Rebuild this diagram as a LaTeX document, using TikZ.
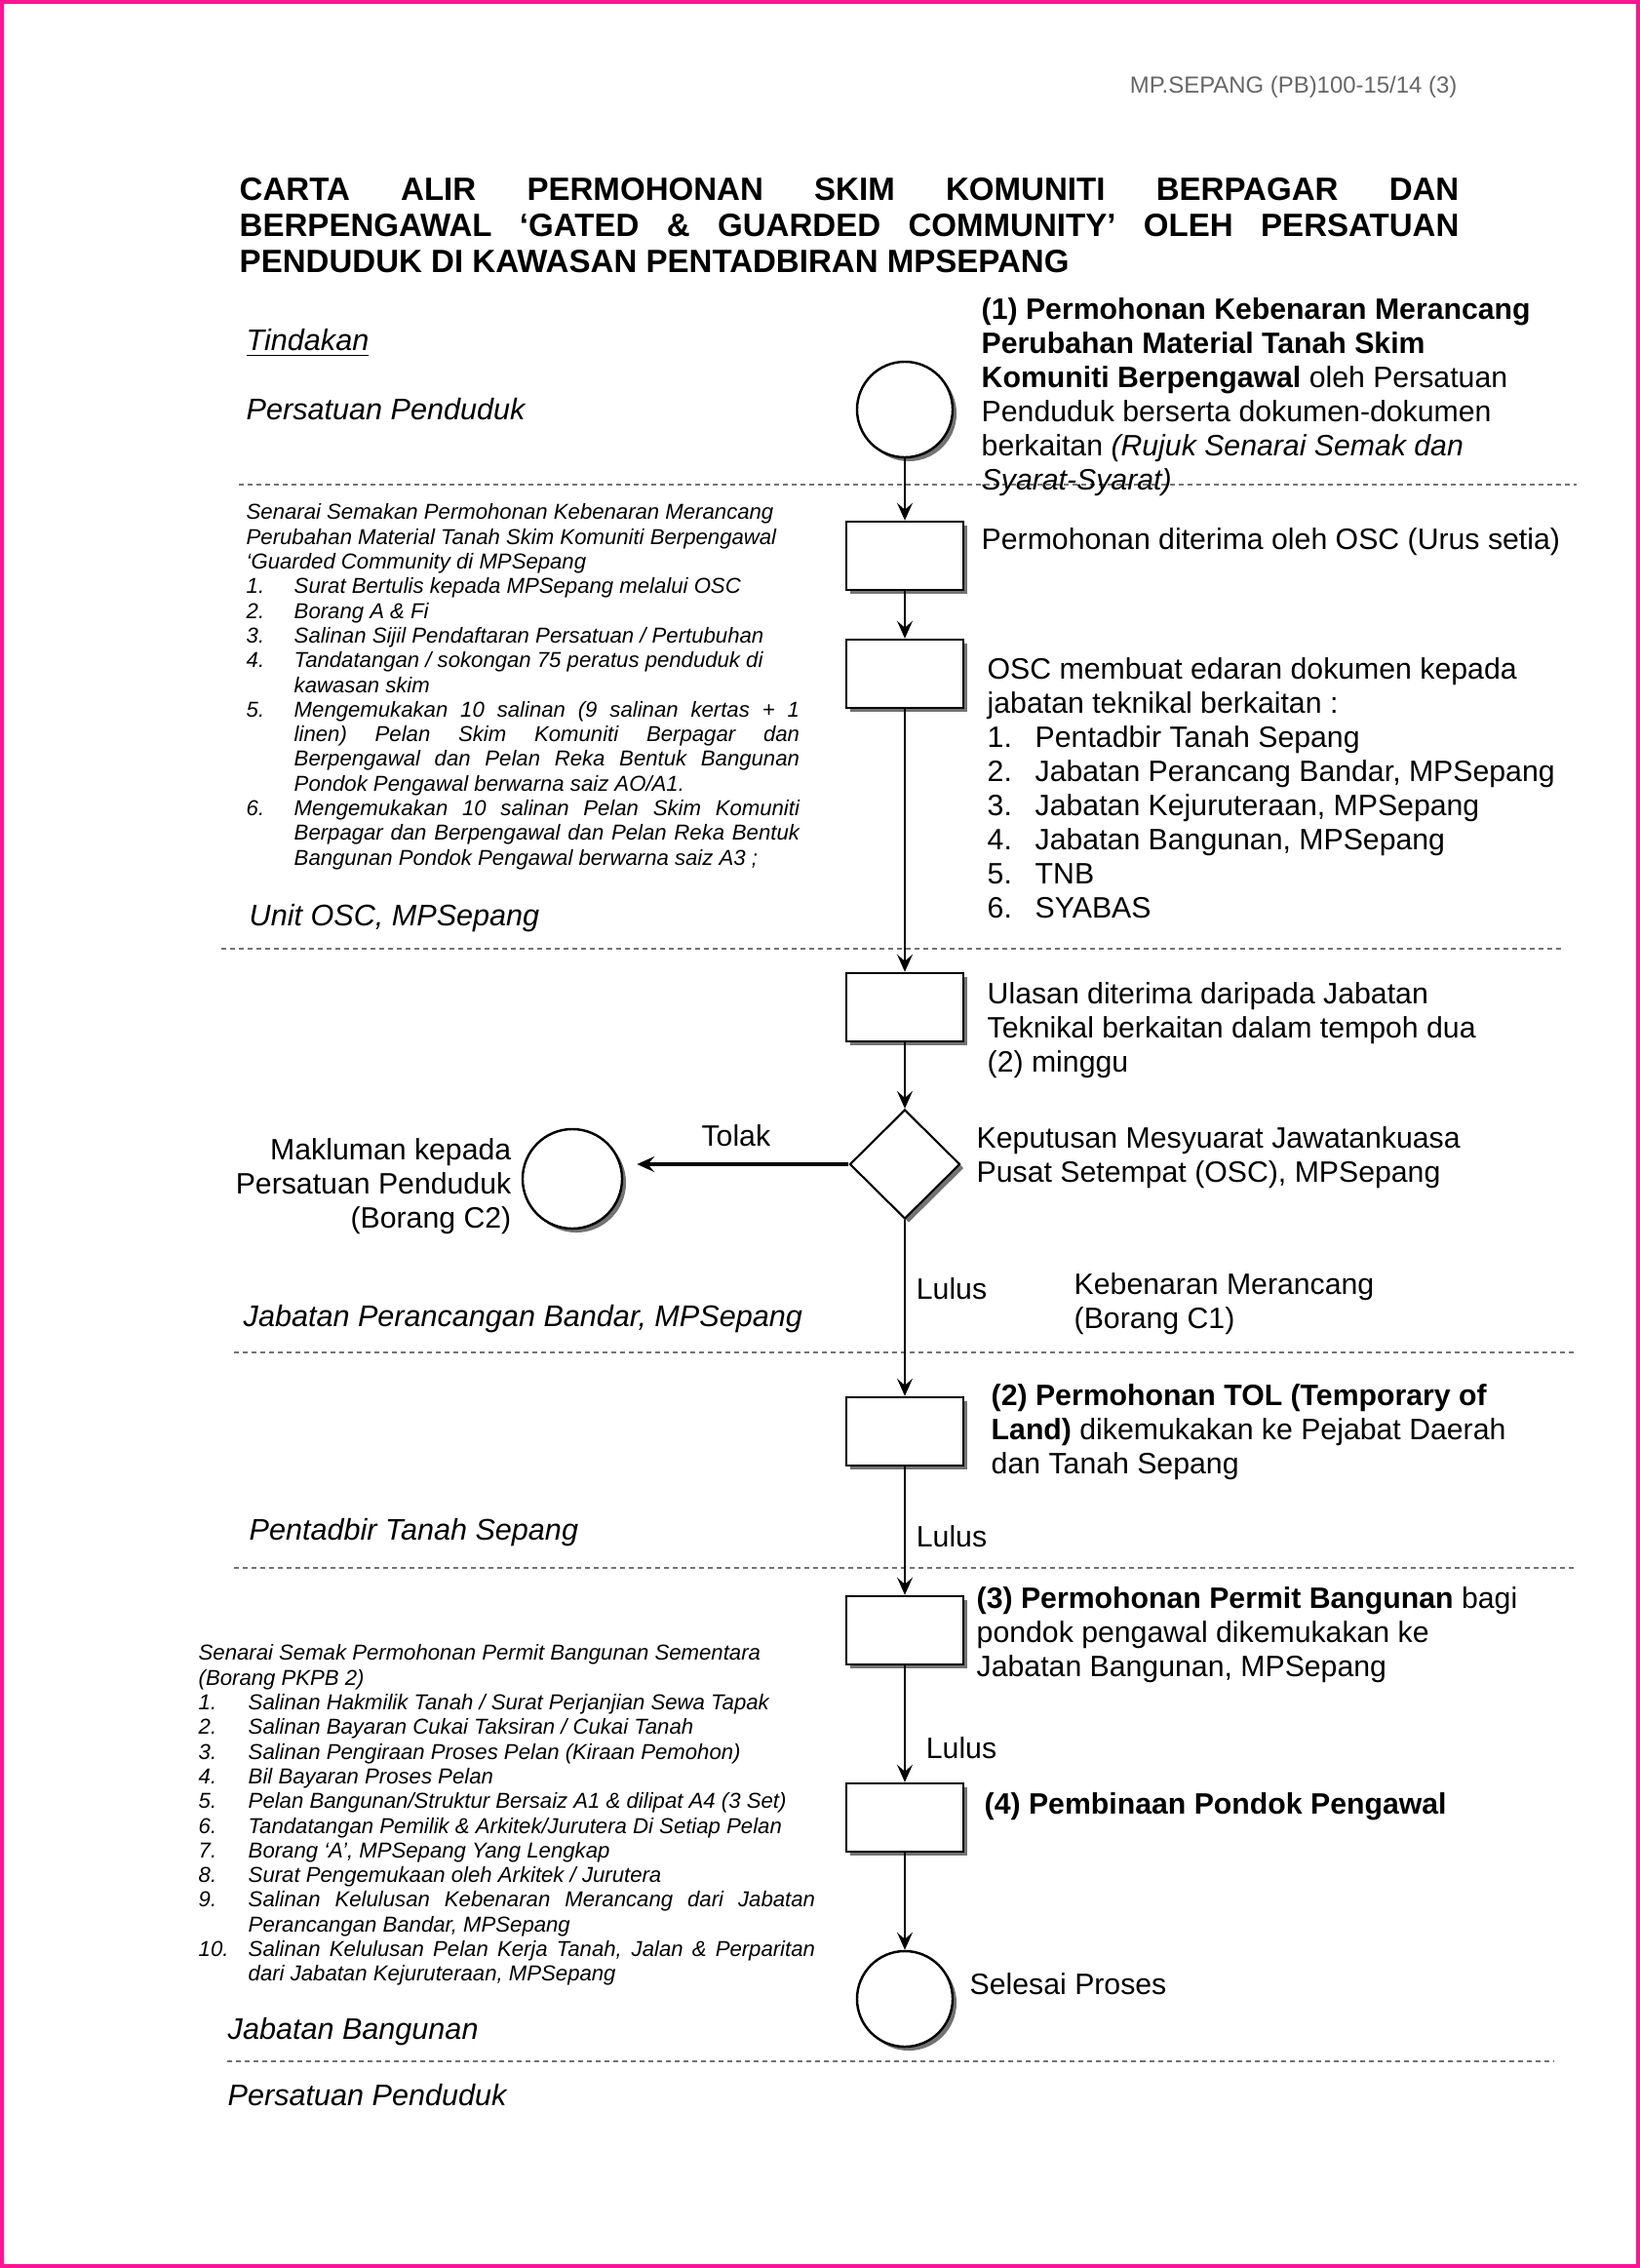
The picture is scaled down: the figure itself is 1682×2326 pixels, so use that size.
\documentclass[tikz,border=0pt]{standalone}
\usepackage{fontspec}
\setmainfont{Liberation Sans}
\usetikzlibrary{shapes.geometric, arrows.meta, shadows}
\definecolor{framepink}{RGB}{255,20,147}
\newcommand{\senitem}[2][0.49cm]{\par\hangindent=#1\hangafter=1\noindent\makebox[#1][l]{#2}\ignorespaces}
\tikzset{
  boxshadow/.style={drop shadow={shadow xshift=0.04cm, shadow yshift=-0.04cm,
    fill=black!55, opacity=1}},
  startstop/.style={circle, draw=black, line width=0.7pt, fill=white,
    minimum size=0.98cm, inner sep=0pt, boxshadow},
  process/.style={rectangle, draw=black, line width=0.7pt, fill=white,
    minimum width=1.2cm, minimum height=0.7cm, inner sep=0pt, boxshadow},
  decision/.style={diamond, aspect=1, draw=black, line width=0.6pt, fill=white,
    minimum width=1.13cm, minimum height=1.12cm, inner sep=0pt, boxshadow},
  arrow/.style={-{Stealth[length=0.18cm, width=0.16cm, inset=0.07cm]}, line width=0.5pt},
  lane/.style={draw=black!55, line width=0.6pt, dash pattern=on 0.05cm off 0.04cm},
  body/.style={anchor=north west, align=left, inner sep=0pt,
    font=\fontsize{8.6}{9.96}\selectfont},
  lbl/.style={inner sep=0pt, font=\fontsize{8.6}{9.96}\selectfont},
  lanetxt/.style={anchor=west, inner sep=0pt, font=\itshape\fontsize{8.7}{10}\selectfont},
  checklist/.style={anchor=north west, align=justify, inner sep=0pt,
    font=\itshape\fontsize{6.3}{7.2}\selectfont}
}
\begin{document}
\begin{tikzpicture}[x=0.01cm, y=-0.01cm]
\useasboundingbox (0,0) rectangle (1682,2326);
\draw [framepink, line width=0.04cm] (2,2) rectangle (1680,2324);

% heading
\node (ref) [anchor=east, inner sep=0pt, text=black!60,
  font=\fontsize{6.8}{8}\selectfont] at (1495,89) {MP.SEPANG (PB)100-15/14 (3)};
\node (title) [anchor=north west, text width=12.5cm, align=justify, inner sep=0pt,
  font=\bfseries\fontsize{9.4}{10.5}\selectfont] at (245,182)
  {CARTA ALIR PERMOHONAN SKIM KOMUNITI BERPAGAR DAN\linebreak
   BERPENGAWAL ‘GATED \& GUARDED COMMUNITY’ OLEH PERSATUAN\linebreak
   PENDUDUK DI KAWASAN PENTADBIRAN MPSEPANG};

% swimlane separators
\draw [lane] (245,497)  -- (1617,497);
\draw [lane] (227,973)  -- (1602,973);
\draw [lane] (240,1387) -- (1617,1387);
\draw [lane] (240,1608) -- (1617,1608);
\draw [lane] (233,2114) -- (1594,2114);

% lane labels
\node (laneHead) [lanetxt] at (252,352)  {\underline{Tindakan}};
\node (laneRes1) [lanetxt] at (252,420)  {Persatuan Penduduk};
\node (laneOsc)  [lanetxt] at (255,942)  {Unit OSC, MPSepang};
\node (laneJpb)  [lanetxt] at (249,1353) {Jabatan Perancangan Bandar, MPSepang};
\node (lanePts)  [lanetxt] at (255,1572) {Pentadbir Tanah Sepang};
\node (laneJb)   [lanetxt] at (233,2084) {Jabatan Bangunan};
\node (laneRes2) [lanetxt] at (233,2149) {Persatuan Penduduk};

% flow shapes
\node (start)  [startstop]                   at (928,420)  {};
\node (recv)   [process]                     at (928,570)  {};
\node (circ)   [process]                     at (928,691)  {};
\node (review) [process]                     at (928,1033) {};
\node (meet)   [decision]                    at (928,1194) {};
\node (notify) [startstop, minimum size=1.02cm] at (587,1209) {};
\node (tol)    [process]                     at (928,1468) {};
\node (permit) [process]                     at (928,1672) {};
\node (build)  [process]                     at (928,1864) {};
\node (done)   [startstop]                   at (928,2050) {};

% descriptions
\node (startTxt) [body] at (1006,305)
  {\textbf{(1) Permohonan Kebenaran Merancang}\\
   \textbf{Perubahan Material Tanah Skim}\\
   \textbf{Komuniti Berpengawal} oleh Persatuan\\
   Penduduk berserta dokumen-dokumen\\
   berkaitan \textit{(Rujuk Senarai Semak dan}\\
   \textit{Syarat-Syarat)}};
\node (recvTxt) [body, anchor=west] at (1006,556) {Permohonan diterima oleh OSC (Urus setia)};
\node (circTxt) [body] at (1012,674)
  {OSC membuat edaran dokumen kepada\\
   jabatan teknikal berkaitan :\\
   \makebox[0.49cm][l]{1.}Pentadbir Tanah Sepang\\
   \makebox[0.49cm][l]{2.}Jabatan Perancang Bandar, MPSepang\\
   \makebox[0.49cm][l]{3.}Jabatan Kejuruteraan, MPSepang\\
   \makebox[0.49cm][l]{4.}Jabatan Bangunan, MPSepang\\
   \makebox[0.49cm][l]{5.}TNB\\
   \makebox[0.49cm][l]{6.}SYABAS};
\node (reviewTxt) [body] at (1012,1007)
  {Ulasan diterima daripada Jabatan\\
   Teknikal berkaitan dalam tempoh dua\\
   (2) minggu};
\node (meetTxt) [body] at (1001,1155)
  {Keputusan Mesyuarat Jawatankuasa\\
   Pusat Setempat (OSC), MPSepang};
\node (notifyTxt) [body, anchor=north east, align=right] at (525,1167)
  {Makluman kepada\\ Persatuan Penduduk\\ (Borang C2)};
\node (approveTxt) [body] at (1101,1305) {Kebenaran Merancang\\ (Borang C1)};
\node (tolTxt) [body] at (1016,1419)
  {\textbf{(2) Permohonan TOL (Temporary of}\\
   \textbf{Land)} dikemukakan ke Pejabat Daerah\\
   dan Tanah Sepang};
\node (permitTxt) [body] at (1001,1627)
  {\textbf{(3) Permohonan Permit Bangunan} bagi\\
   pondok pengawal dikemukakan ke\\
   Jabatan Bangunan, MPSepang};
\node (buildTxt) [body, anchor=west] at (1009,1853) {\textbf{(4) Pembinaan Pondok Pengawal}};
\node (doneTxt)  [body, anchor=west] at (994,2035)  {Selesai Proses};

% checklists
\node (chkPlan) [checklist, text width=5.67cm] at (252,516)
  {Senarai Semakan Permohonan Kebenaran Merancang\newline
   Perubahan Material Tanah Skim Komuniti Berpengawal\newline
   ‘Guarded Community di MPSepang
   \senitem{1.}Surat Bertulis kepada MPSepang melalui OSC
   \senitem{2.}Borang A \& Fi
   \senitem{3.}Salinan Sijil Pendaftaran Persatuan / Pertubuhan
   \senitem{4.}Tandatangan / sokongan 75 peratus penduduk di\newline kawasan skim
   \senitem{5.}Mengemukakan 10 salinan (9 salinan kertas + 1\linebreak
     linen) Pelan Skim Komuniti Berpagar dan\linebreak
     Berpengawal dan Pelan Reka Bentuk Bangunan\linebreak
     Pondok Pengawal berwarna saiz AO/A1.
   \senitem{6.}Mengemukakan 10 salinan Pelan Skim Komuniti\linebreak
     Berpagar dan Berpengawal dan Pelan Reka Bentuk\linebreak
     Bangunan Pondok Pengawal berwarna saiz A3 ;\par};
\node (chkPermit) [checklist, text width=6.32cm] at (203,1686)
  {Senarai Semak Permohonan Permit Bangunan Sementara\newline
   (Borang PKPB 2)
   \senitem[0.51cm]{1.}Salinan Hakmilik Tanah / Surat Perjanjian Sewa Tapak
   \senitem[0.51cm]{2.}Salinan Bayaran Cukai Taksiran / Cukai Tanah
   \senitem[0.51cm]{3.}Salinan Pengiraan Proses Pelan (Kiraan Pemohon)
   \senitem[0.51cm]{4.}Bil Bayaran Proses Pelan
   \senitem[0.51cm]{5.}Pelan Bangunan/Struktur Bersaiz A1 \& dilipat A4 (3 Set)
   \senitem[0.51cm]{6.}Tandatangan Pemilik \& Arkitek/Jurutera Di Setiap Pelan
   \senitem[0.51cm]{7.}Borang ‘A’, MPSepang Yang Lengkap
   \senitem[0.51cm]{8.}Surat Pengemukaan oleh Arkitek / Jurutera
   \senitem[0.51cm]{9.}Salinan Kelulusan Kebenaran Merancang dari Jabatan\linebreak
     Perancangan Bandar, MPSepang
   \senitem[0.51cm]{10.}Salinan Kelulusan Pelan Kerja Tanah, Jalan \& Perparitan\linebreak
     dari Jabatan Kejuruteraan, MPSepang\par};

% connectors
\draw [arrow] (start)  -- (recv);
\draw [arrow] (recv)   -- (circ);
\draw [arrow] (circ)   -- (review);
\draw [arrow] (review) -- (meet);
\draw [arrow, line width=1pt, shorten >=0.14cm] (meet.west) --
  node[above=0.16cm, lbl] {Tolak} (meet.west -| notify.east);
\draw [arrow] (meet)   -- node[pos=0.39, right=0.11cm, lbl] {Lulus} (tol);
\draw [arrow] (tol)    -- node[pos=0.54, right=0.11cm, lbl] {Lulus} (permit);
\draw [arrow] (permit) -- node[pos=0.71, right=0.21cm, lbl] {Lulus} (build);
\draw [arrow] (build)  -- (done);
\end{tikzpicture}
\end{document}
